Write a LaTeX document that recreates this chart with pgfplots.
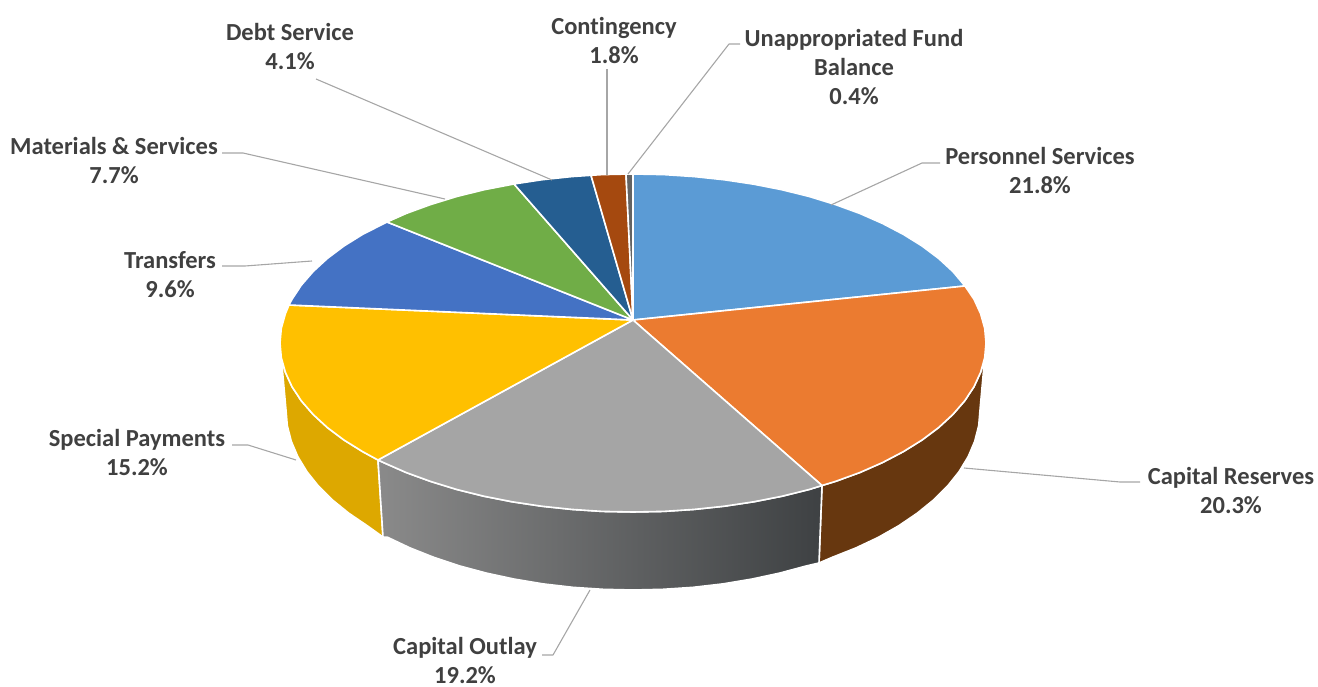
\documentclass[border=0pt]{standalone}
\usepackage{pgfplots}
\pgfplotsset{compat=1.18}
\usepackage{fontspec}
\setmainfont[Ligatures=NoCommon]{Carlito}
\definecolor{cBlue}{HTML}{5B9BD5}
\definecolor{cOrange}{HTML}{EB7B30}
\definecolor{cGray}{HTML}{A5A5A5}
\definecolor{cYellow}{HTML}{FFC000}
\definecolor{cBlueB}{HTML}{4472C4}
\definecolor{cGreen}{HTML}{70AD47}
\definecolor{cNavy}{HTML}{255E91}
\definecolor{cRust}{HTML}{A5490F}
\definecolor{cSlate}{HTML}{636363}
\definecolor{cLabel}{HTML}{404040}
\definecolor{cLead}{HTML}{A6A6A6}
\definecolor{cSideBrown}{HTML}{67370F}
\definecolor{cSideYellow}{HTML}{DDA800}
\definecolor{cSideL}{HTML}{8A8A8A}
\definecolor{cSideM}{HTML}{5C5C5C}
\definecolor{cSideR}{HTML}{3E4143}
\tikzset{
  face/.style={draw=white, line width=1.6pt},
  lead/.style={draw=cLead, line width=1.1pt},
  lab/.style={font=\fontsize{24.5}{29}\selectfont\bfseries, text=cLabel, align=center, inner sep=0pt},
}

\begin{document}
\begin{tikzpicture}
\begin{axis}[
  width=1318pt, height=687pt, scale only axis,
  xmin=0, xmax=1318, ymin=0, ymax=687, y dir=reverse,
  hide axis, clip=false,
  every axis plot/.append style={no markers, line join=round},
]
% keeps the page at the full frame
\addplot[draw=none] coordinates {(0,0)(1318,687)};
% sides first, the top face lies over them
\addplot[face, fill=cSideBrown] coordinates {
  (986,343)(984.7,357.7)(980.6,372.3)(974,386.7)(964.7,400.8)(952.9,414.4)(938.7,427.5)
  (922.2,439.9)(903.4,451.6)(882.6,462.5)(859.9,472.5)(835.5,481.4)(822,485.5)
  (819,563)(832,557.4)(856,547.9)(878.4,537.3)(898.8,525.7)(917.2,513.2)(933.5,500)
  (947.5,486.1)(959.1,471.6)(968.2,456.6)(974.7,441.3)(978.7,425.7)(980,410)(986,343)};
\addplot[face, fill=cSideYellow] coordinates {
  (280,343)(281.3,357.7)(285.4,372.3)(292,386.7)(301.3,400.8)(313.1,414.4)(327.3,427.5)
  (343.8,439.9)(362.6,451.6)(378,460)
  (383,537)(367.2,525.7)(348.8,513.2)(332.5,500)(318.5,486.1)(306.9,471.6)(297.8,456.6)
  (291.3,441.3)(287.3,425.7)(286,410)(280,343)};
\addplot[face, left color=cSideL, middle color=cSideM, right color=cSideR] coordinates {
  (822,485.5)(809.5,489.4)(782.2,496.2)(753.7,501.8)(724.4,506.2)(694.3,509.4)(663.8,511.4)
  (633,512)(602.2,511.4)(571.7,509.4)(541.6,506.2)(512.3,501.8)(483.8,496.2)(456.5,489.4)
  (430.5,481.4)(406.1,472.5)(383.4,462.5)(378,460)
  (383,537)(387.6,537.3)(410,547.9)(434,557.4)(459.5,565.9)(486.4,573.1)(514.3,579.1)
  (543.2,583.9)(572.7,587.3)(602.8,589.3)(633,590)(663.2,589.3)(693.3,587.3)(722.8,583.9)
  (751.7,579.1)(779.6,573.1)(806.5,565.9)(819,563)(822,485.5)};
% top face
\addplot[face, fill=cBlue] coordinates {
  (633,320)(633,174)(663.8,174.6)(694.3,176.6)(724.4,179.8)(753.7,184.2)(782.2,189.8)
  (809.5,196.6)(835.5,204.6)(859.9,213.5)(882.6,223.5)(903.4,234.4)(922.2,246.1)
  (938.7,258.5)(952.9,271.6)(965,286)(633,320)};
\addplot[face, fill=cOrange] coordinates {
  (633,320)(965,286)(974,299.3)(980.6,313.7)(984.7,328.3)(986,343)(984.7,357.7)(980.6,372.3)
  (974,386.7)(964.7,400.8)(952.9,414.4)(938.7,427.5)(922.2,439.9)(903.4,451.6)(882.6,462.5)
  (859.9,472.5)(835.5,481.4)(822,485.5)(633,320)};
\addplot[face, fill=cGray] coordinates {
  (633,320)(822,485.5)(809.5,489.4)(782.2,496.2)(753.7,501.8)(724.4,506.2)(694.3,509.4)
  (663.8,511.4)(633,512)(602.2,511.4)(571.7,509.4)(541.6,506.2)(512.3,501.8)(483.8,496.2)
  (456.5,489.4)(430.5,481.4)(406.1,472.5)(383.4,462.5)(378,460)(633,320)};
\addplot[face, fill=cYellow] coordinates {
  (633,320)(378,460)(362.6,451.6)(343.8,439.9)(327.3,427.5)(313.1,414.4)(301.3,400.8)
  (292,386.7)(285.4,372.3)(281.3,357.7)(280,343)(281.3,328.3)(285.4,313.7)(289,305)(633,320)};
\addplot[face, fill=cBlueB] coordinates {
  (633,320)(289,305)(292,299.3)(301.3,285.2)(313.1,271.6)(327.3,258.5)(343.8,246.1)
  (362.6,234.4)(387,222)(633,320)};
\addplot[face, fill=cGreen] coordinates {
  (633,320)(387,222)(406.1,213.5)(430.5,204.6)(456.5,196.6)(483.8,189.8)(514,184)(633,320)};
\addplot[face, fill=cNavy] coordinates {
  (633,320)(514,184)(541.6,179.8)(571.7,176.6)(591,175.3)(633,320)};
\addplot[face, fill=cRust] coordinates {
  (633,320)(591,175.3)(602.2,174.6)(626,174.1)(633,320)};
\addplot[face, fill=cSlate] coordinates {
  (633,320)(626,174.1)(633,174)(633,320)};
% leader lines
\addplot[lead] coordinates {(831,205)(922,163)(940,163)};
\addplot[lead] coordinates {(964,468)(1120,482)(1140,482)};
\addplot[lead] coordinates {(590,590)(553,655)(542,655)};
\addplot[lead] coordinates {(296,460)(248,445)(232,445)};
\addplot[lead] coordinates {(312,261)(245,266)(222,266)};
\addplot[lead] coordinates {(445,199)(243,153)(222,153)};
\addplot[lead] coordinates {(552,180)(316,79)};
\addplot[lead] coordinates {(607,69)(607,175)};
\addplot[lead] coordinates {(628,174)(729,44)(740,44)};
% labels
\node[lab] at (axis cs:1040,170.5) {Personnel Services\\21.8\%};
\node[lab] at (axis cs:1231,490.5) {Capital Reserves\\20.3\%};
\node[lab] at (axis cs:465,661) {Capital Outlay\\19.2\%};
\node[lab] at (axis cs:137,452.5) {Special Payments\\15.2\%};
\node[lab] at (axis cs:170,274.5) {Transfers\\9.6\%};
\node[lab] at (axis cs:114,160.5) {Materials \& Services\\7.7\%};
\node[lab] at (axis cs:290,46.5) {Debt Service\\4.1\%};
\node[lab] at (axis cs:614,40.5) {Contingency\\1.8\%};
\node[lab] at (axis cs:854,67.5) {Unappropriated Fund\\Balance\\0.4\%};
\end{axis}
\end{tikzpicture}
\end{document}
